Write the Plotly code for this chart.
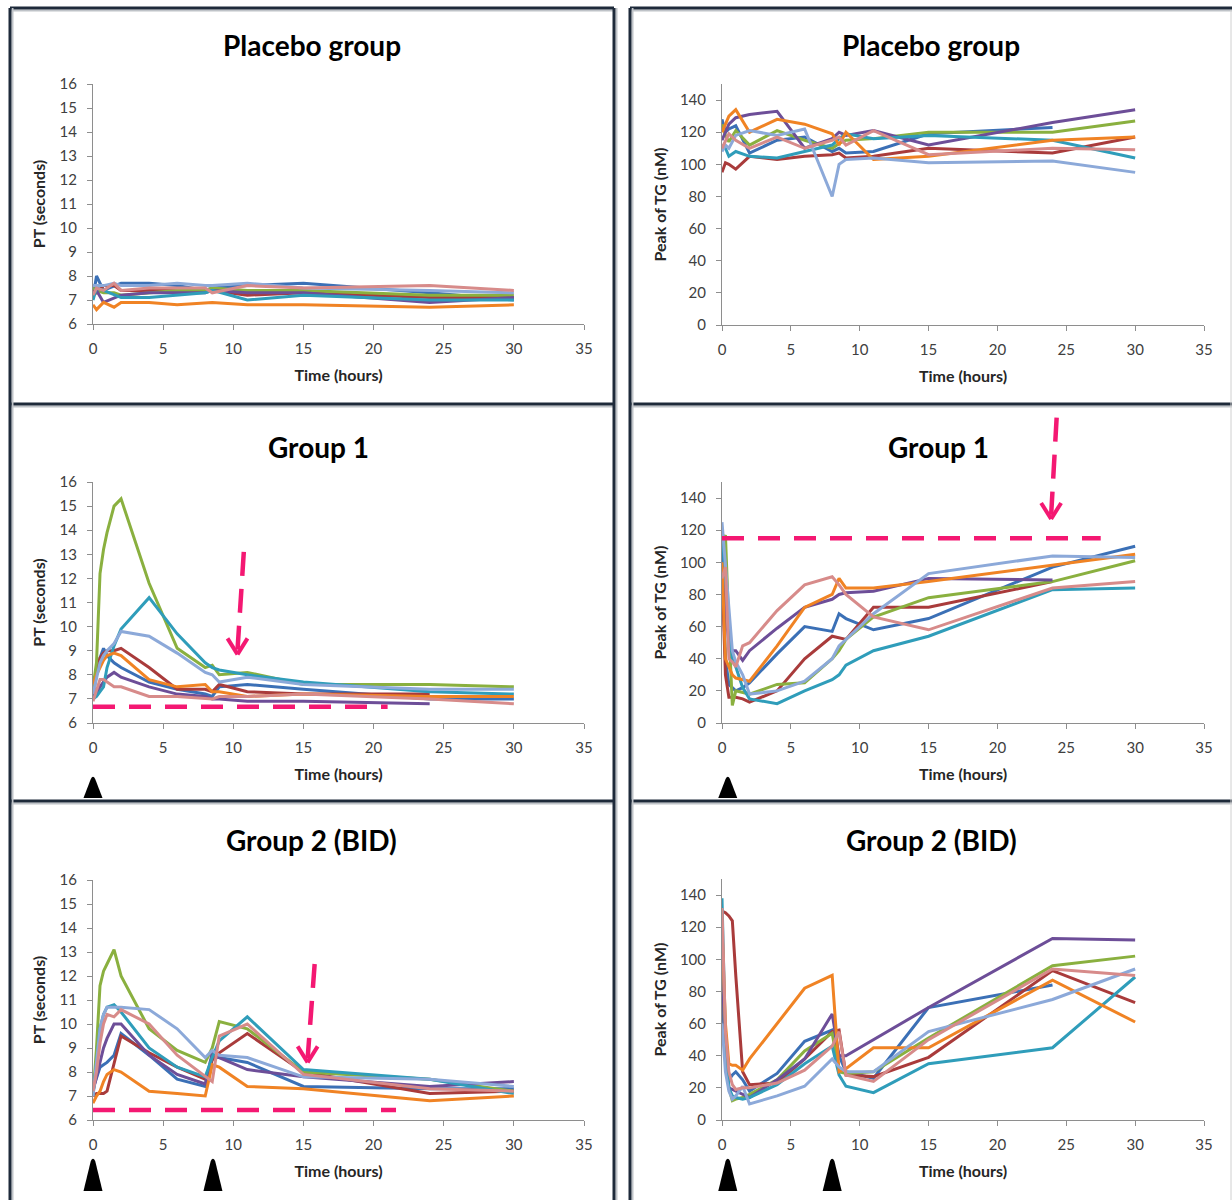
import plotly.graph_objects as go

# ---------------------------------------------------------------- data
# sampling times (hours)
t_placebo_pt = [0, 0.25, 0.75, 1.5, 2, 4, 6, 8, 8.5, 11, 15, 24, 30]
t_placebo_tg = [0, 0.25, 0.5, 1, 2, 4, 6, 8, 8.5, 9, 11, 15, 24, 30]
t_dosed = [0, 0.25, 0.5, 0.75, 1, 1.5, 2, 4, 6, 8, 8.5, 9, 11, 15, 24, 30]

series_names = ["S1", "S2", "S3", "S4", "S5", "S6", "S7", "S8"]
series_colors = ["#3B70B6", "#A93B3B", "#8AB03F", "#6D4E98",
                 "#2F9DBA", "#F08324", "#8CA9D9", "#D78B8A"]

# Placebo group, PT (seconds)
placebo_pt = [
    [7.1, 8.0, 7.4, 7.6, 7.7, 7.7, 7.6, 7.4, 7.5, 7.6, 7.7, 7.3, 7.0],
    [7.4, 7.3, 7.6, 7.6, 7.4, 7.4, 7.4, 7.4, 7.4, 7.2, 7.3, 7.1, 7.1],
    [7.5, 7.4, 7.3, 7.3, 7.2, 7.3, 7.4, 7.4, 7.5, 7.4, 7.4, 7.2, 7.2],
    [7.3, 7.4, 6.9, 7.1, 7.2, 7.3, 7.3, 7.3, 7.4, 7.3, 7.3, 6.9, 7.1],
    [7.0, 7.5, 7.4, 7.2, 7.1, 7.1, 7.2, 7.3, 7.4, 7.0, 7.2, 7.0, 7.0],
    [6.8, 6.6, 6.9, 6.7, 6.9, 6.9, 6.8, 6.9, 6.9, 6.8, 6.8, 6.7, 6.8],
    [7.6, 7.6, 7.6, 7.7, 7.6, 7.6, 7.7, 7.6, 7.6, 7.7, 7.5, 7.4, 7.3],
    [7.2, 7.5, 7.4, 7.7, 7.4, 7.5, 7.5, 7.5, 7.3, 7.6, 7.5, 7.6, 7.4],
]

# Placebo group, peak of thrombin generation (nM)
placebo_tg = [
    [128, 120, 122, 124, 107, 115, 117, 108, 110, 107, 108, 119, 123, None],
    [95, 101, 100, 97, 105, 103, 105, 106, 107, 104, 105, 110, 107, 117],
    [125, 118, 114, 121, 112, 121, 115, 110, 113, 115, 116, 120, 120, 127],
    [115, 120, 125, 129, 131, 133, 110, 116, 120, 118, 121, 112, 126, 134],
    [112, 110, 105, 108, 105, 104, 108, 112, 116, 119, 116, 118, 115, 104],
    [120, 125, 130, 134, 120, 128, 125, 119, 112, 120, 103, 105, 115, 117],
    [108, 112, 110, 118, 121, 118, 122, 80, 100, 103, 104, 101, 102, 95],
    [110, 115, 119, 115, 110, 117, 110, 115, 117, 112, 121, 106, 110, 109],
]

# Group 1, PT (seconds)
group1_pt = [
    [7.1, 8.0, 8.7, 9.1, 8.8, 8.5, 8.3, 7.7, 7.4, 7.2, 7.1, 7.5, 7.6, 7.4, 7.0, 7.0],
    [7.4, 8.2, 8.7, 8.9, 9.0, 9.0, 9.1, 8.3, 7.4, 7.4, 7.3, 7.6, 7.3, 7.2, 7.2, None],
    [7.5, 8.5, 12.2, 13.2, 13.9, 15.0, 15.3, 11.8, 9.1, 8.3, 8.4, 8.0, 8.1, 7.6, 7.6, 7.5],
    [7.0, 7.2, 7.5, 7.7, 7.9, 8.1, 7.9, 7.5, 7.2, 7.1, 7.0, 7.0, 6.9, 6.9, 6.8, None],
    [7.0, 7.1, 7.3, 7.5, 8.3, 9.2, 9.9, 11.2, 9.7, 8.5, 8.3, 8.2, 8.0, 7.7, 7.3, 7.2],
    [7.6, 8.0, 8.3, 8.6, 8.8, 8.9, 8.8, 7.8, 7.5, 7.6, 7.3, 7.3, 7.1, 7.2, 7.1, 7.1],
    [7.2, 7.9, 8.5, 8.8, 9.0, 9.3, 9.8, 9.6, 8.9, 8.1, 8.0, 7.7, 7.9, 7.6, 7.4, 7.4],
    [6.9, 7.4, 7.8, 7.8, 7.7, 7.5, 7.5, 7.1, 7.1, 7.0, 7.0, 7.1, 7.1, 7.2, 7.0, 6.8],
]

# Group 1, peak of thrombin generation (nM)
group1_tg = [
    [110, 40, 24, 22, 20, 22, 25, 43, 60, 57, 68, 65, 58, 65, 97, 110],
    [95, 30, 16, 16, 16, 15, 13, 20, 40, 54, 53, 52, 72, 72, 88, None],
    [110, 117, 60, 11, 20, 19, 18, 24, 25, 40, 45, 52, 66, 78, 88, 101],
    [98, 70, 50, 45, 45, 39, 45, 59, 72, 77, 80, 81, 82, 90, 89, None],
    [120, 90, 60, 40, 35, 22, 15, 12, 20, 27, 30, 36, 45, 54, 83, 84],
    [100, 40, 35, 30, 28, 27, 26, 48, 72, 80, 90, 84, 84, 88, 98, 105],
    [125, 100, 70, 45, 38, 30, 18, 20, 26, 40, 48, 52, 68, 93, 104, 103],
    [90, 97, 40, 38, 35, 48, 50, 70, 86, 91, 86, 80, 66, 58, 84, 88],
]

# Group 2 (BID), PT (seconds)
group2_pt = [
    [7.3, 7.8, 8.2, 8.3, 8.4, 8.7, 9.6, 8.7, 7.7, 7.4, 8.6, 8.6, 8.4, 7.4, 7.3, 7.3],
    [7.0, 7.1, 7.1, 7.1, 7.2, 8.3, 9.5, 8.8, 8.2, 7.7, 8.5, 8.8, 9.6, 8.0, 7.1, 7.2],
    [7.0, 9.0, 11.6, 12.2, 12.5, 13.1, 12.0, 9.8, 8.9, 8.4, 9.0, 10.1, 9.8, 8.0, 7.7, 7.2],
    [7.2, 7.8, 8.5, 9.0, 9.4, 10.0, 10.0, 8.7, 7.9, 7.5, 8.8, 8.6, 8.1, 7.8, 7.4, 7.6],
    [7.0, 8.5, 9.8, 10.4, 10.7, 10.8, 10.5, 9.0, 8.2, 7.8, 8.6, 9.3, 10.3, 8.1, 7.7, 7.1],
    [6.7, 7.0, 7.2, 7.6, 7.9, 8.1, 8.0, 7.2, 7.1, 7.0, 8.3, 8.2, 7.4, 7.3, 6.8, 7.0],
    [7.0, 8.5, 9.8, 10.4, 10.7, 10.7, 10.7, 10.6, 9.8, 8.6, 8.9, 8.7, 8.6, 7.8, 7.7, 7.4],
    [7.2, 8.0, 9.2, 10.0, 10.4, 10.3, 10.6, 10.0, 8.7, 7.8, 7.6, 9.5, 10.0, 7.9, 7.3, 7.2],
]

# Group 2 (BID), peak of thrombin generation (nM)
group2_tg = [
    [80, 40, 25, 28, 30, 25, 18, 29, 49, 56, 40, 30, 26, 70, 84, None],
    [130, 129, 127, 124, 90, 30, 22, 23, 38, 55, 56, 28, 27, 39, 93, 73],
    [110, 40, 20, 12, 13, 14, 16, 25, 43, 54, 30, 29, 30, 51, 96, 102],
    [100, 40, 20, 19, 18, 16, 14, 25, 38, 66, 40, 40, 50, 70, 113, 112],
    [138, 50, 20, 15, 14, 13, 14, 22, 35, 46, 28, 21, 17, 35, 45, 89],
    [120, 60, 35, 34, 34, 31, 38, 60, 82, 90, 30, 32, 45, 45, 87, 61],
    [60, 30, 18, 13, 15, 21, 10, 15, 21, 38, 33, 30, 30, 55, 75, 94],
    [132, 55, 30, 22, 19, 20, 20, 23, 31, 46, 55, 28, 24, 50, 94, 90],
]

panel_titles = ["Placebo group", "Placebo group", "Group 1", "Group 1",
                "Group 2 (BID)", "Group 2 (BID)"]
x_ticks = [0, 5, 10, 15, 20, 25, 30, 35]
pt_ticks = list(range(6, 17))
tg_ticks = list(range(0, 141, 20))

# ---------------------------------------------------------------- layout geometry
W, H = 1232, 1200
FONT = "Lato, Carlito, Calibri, sans-serif"
PINK = "#F41872"
FRAME = "#1E2A3A"


def px(x):
    return x / W


def py(y):
    return 1 - y / H


# plot area in pixels: (left, right, top, bottom), y range
panels = [
    dict(x=(93, 584), y=(84, 324), rng=(6, 16), t=t_placebo_pt, data=placebo_pt, kind="pt"),
    dict(x=(722, 1204), y=(84, 325), rng=(0, 150), t=t_placebo_tg, data=placebo_tg, kind="tg"),
    dict(x=(93, 584), y=(482, 723), rng=(6, 16), t=t_dosed, data=group1_pt, kind="pt"),
    dict(x=(722, 1204), y=(482, 723), rng=(0, 150), t=t_dosed, data=group1_tg, kind="tg"),
    dict(x=(93, 584), y=(880, 1120), rng=(6, 16), t=t_dosed, data=group2_pt, kind="pt"),
    dict(x=(722, 1204), y=(879, 1120), rng=(0, 150), t=t_dosed, data=group2_tg, kind="tg"),
]

fig = go.Figure()
layout = dict(
    template="none",
    width=W, height=H, margin=dict(l=0, r=0, t=0, b=0, pad=0, autoexpand=False),
    paper_bgcolor="white", plot_bgcolor="white", showlegend=False,
    font=dict(family=FONT, color="#404040"),
)

for i, p in enumerate(panels):
    n = "" if i == 0 else str(i + 1)
    for k in range(8):
        fig.add_trace(go.Scatter(
            x=p["t"], y=p["data"][k], mode="lines", name=series_names[k],
            line=dict(color=series_colors[k], width=3),
            xaxis="x" + n, yaxis="y" + n, connectgaps=False, hoverinfo="skip",
        ))
    axis_common = dict(showline=True, linecolor="#8E8E8E", linewidth=1,
                       ticks="outside", ticklen=5, tickcolor="#8E8E8E",
                       showgrid=False, zeroline=False, automargin=False,
                       tickfont=dict(family=FONT, size=15, color="#404040"))
    layout["xaxis" + n] = dict(
        axis_common, domain=[px(p["x"][0]), px(p["x"][1])], range=[0, 35],
        tickvals=x_ticks, anchor="y" + n, ticklabelstandoff=6,
        title=dict(text="<b>Time (hours)</b>", standoff=13,
                   font=dict(family=FONT, size=16, color="#262626")),
    )
    ytitle = "<b>PT (seconds)</b>" if p["kind"] == "pt" else "<b>Peak of TG (nM)</b>"
    layout["yaxis" + n] = dict(
        axis_common, domain=[py(p["y"][1]), py(p["y"][0])], range=list(p["rng"]),
        tickvals=pt_ticks if p["kind"] == "pt" else tg_ticks, anchor="x" + n,
        ticklabelstandoff=7,
        title=dict(text=ytitle, standoff=9,
                   font=dict(family=FONT, size=16, color="#262626")),
    )

fig.update_layout(**layout)


def to_paper(i, xv, yv):
    p = panels[i]
    x0, x1 = p["x"]
    top, bot = p["y"]
    lo, hi = p["rng"]
    xpx = x0 + (xv / 35.0) * (x1 - x0)
    ypx = bot - (yv - lo) / (hi - lo) * (bot - top)
    return px(xpx), py(ypx)


shapes = []

# panel frames
def seg(x0, y0, x1, y1, color=FRAME, width=3):
    shapes.append(dict(type="line", xref="paper", yref="paper",
                       x0=px(x0), y0=py(y0), x1=px(x1), y1=py(y1),
                       line=dict(color=color, width=width)))

for (a, b) in [(10, 614), (630, 1232)]:
    for yy in (8, 404, 801):
        seg(a, yy + 2.5, b, yy + 2.5, color="#BFC3C8", width=2)
        seg(a, yy, b, yy)
for xx in (10, 614, 630):
    seg(xx + 2.5, 8, xx + 2.5, 1200, color="#BFC3C8", width=2)
    seg(xx, 8, xx, 1200)
seg(1231, 10, 1231, 1200, color="#D0D0D0", width=1)

# dosing markers below the time axis
def dose_marker(i, xv, ytop, ybot):
    xp, _ = to_paper(i, xv, panels[i]["rng"][0])
    xc = xp * W
    half = 9.5
    path = (f"M {px(xc - half)},{py(ybot)} L {px(xc - 2.2)},{py(ytop + 3)} "
            f"Q {px(xc)},{py(ytop - 1.5)} {px(xc + 2.2)},{py(ytop + 3)} "
            f"L {px(xc + half)},{py(ybot)} Z")
    shapes.append(dict(type="path", xref="paper", yref="paper", path=path,
                       fillcolor="black", line=dict(color="black", width=0)))

dose_marker(2, 0.0, 776, 798)
dose_marker(3, 0.42, 776, 798)
dose_marker(4, 0.0, 1158, 1191)
dose_marker(4, 8.55, 1158, 1191)
dose_marker(5, 0.42, 1158, 1191)
dose_marker(5, 8.0, 1158, 1191)

# baseline reference lines
def ref_line(i, yv, xend):
    x0, y0 = to_paper(i, 0.0, yv)
    x1, y1 = to_paper(i, xend, yv)
    shapes.append(dict(type="line", xref="paper", yref="paper",
                       x0=x0, y0=y0, x1=x1, y1=y1,
                       line=dict(color=PINK, width=4.5, dash="22px,14px")))

ref_line(2, 6.67, 21.0)
ref_line(3, 115.0, 27.5)
ref_line(4, 6.42, 21.6)

# dashed arrows marking the return to baseline
def dashed_arrow(i, xtop, ytop, xtip, ytip):
    ax, ay = to_paper(i, xtop, ytop)
    bx, by = to_paper(i, xtip, ytip)
    shapes.append(dict(type="line", xref="paper", yref="paper",
                       x0=ax, y0=ay, x1=bx, y1=by + 4 / H,
                       line=dict(color=PINK, width=4.5, dash="24px,13px")))
    tx, ty = bx * W, (1 - by) * H
    for dx in (-10, 10):
        shapes.append(dict(type="line", xref="paper", yref="paper",
                           x0=px(tx + dx), y0=py(ty - 16), x1=px(tx), y1=py(ty),
                           line=dict(color=PINK, width=4)))

dashed_arrow(2, 10.75, 13.1, 10.3, 8.85)
dashed_arrow(3, 24.3, 190.0, 23.9, 127.0)
dashed_arrow(4, 15.8, 12.5, 15.3, 8.4)

fig.update_layout(shapes=shapes)

# panel headings
heading_pos = [(312, 45), (931, 45), (318, 447), (938, 447), (312, 840), (932, 840)]
for text, (hx, hy) in zip(panel_titles, heading_pos):
    fig.add_annotation(x=px(hx), y=py(hy), xref="paper", yref="paper",
                       text=f"<b>{text}</b>", showarrow=False,
                       xanchor="center", yanchor="middle",
                       font=dict(family=FONT, size=28, color="black"))

fig.write_html(
    "out.html",
    post_script="document.body.style.margin='0px';document.body.style.overflow='hidden';",
)
